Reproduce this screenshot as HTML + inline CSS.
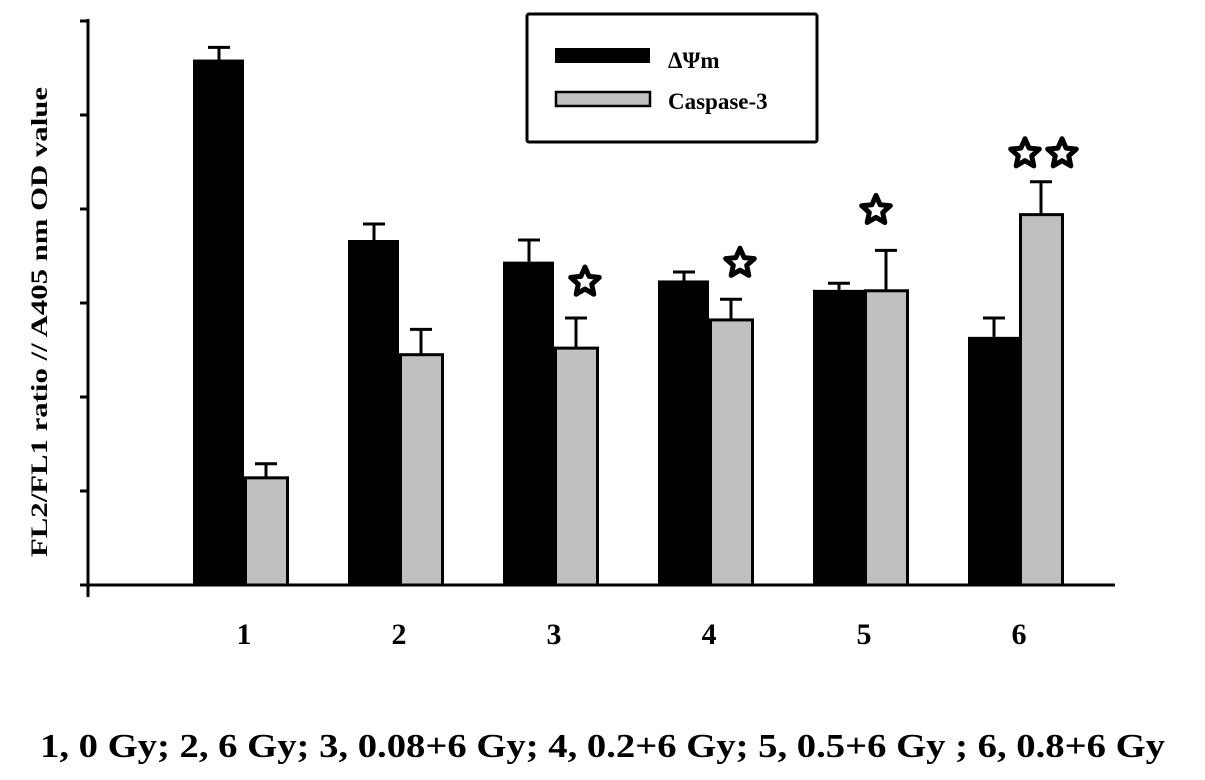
<!DOCTYPE html>
<html><head><meta charset="utf-8"><style>
body{margin:0;background:#fff;}
svg{display:block;font-family:"Liberation Serif",serif;font-weight:bold;}
</style></head><body>
<svg width="1205" height="780" viewBox="0 0 1205 780">
<g id="axes"></g>
<g id="bars"></g>
<g id="legend">
<rect x="527" y="14" width="290" height="128" fill="#fff" stroke="#000" stroke-width="3" rx="2"/>
<rect x="555" y="48" width="95" height="15" fill="#000"/>
<text x="668" y="68" font-size="23">ΔΨm</text>
<rect x="556" y="92" width="94" height="14" fill="#c0c0c0" stroke="#000" stroke-width="2.5"/>
<text x="668" y="109" font-size="23">Caspase-3</text>
</g>
<text transform="translate(47,322) rotate(-90)" text-anchor="middle" font-size="23" textLength="470" lengthAdjust="spacingAndGlyphs">FL2/FL1 ratio // A405 nm OD value</text>
<text x="40" y="757" font-size="34" textLength="1125" lengthAdjust="spacingAndGlyphs">1, 0 Gy; 2, 6 Gy; 3, 0.08+6 Gy; 4, 0.2+6 Gy; 5, 0.5+6 Gy ; 6, 0.8+6 Gy</text>
</svg>
<script>
const categories=["1","2","3","4","5","6"];
const dpsi=[5.59,3.67,3.44,3.24,3.14,2.64];
const dpsiErr=[0.13,0.17,0.23,0.09,0.07,0.20];
const casp=[1.14,2.45,2.52,2.82,3.13,3.94];
const caspErr=[0.15,0.27,0.32,0.22,0.43,0.35];
const stars=[0,0,1,1,1,2];
const yTicks=[0,1,2,3,4,5,6];
const NS="http://www.w3.org/2000/svg";
const base=585, unit=94;
function y(v){return base-v*unit;}
function cx(i){return 244+i*155;}
function mk(tag,attrs,parent){const e=document.createElementNS(NS,tag);for(const k in attrs)e.setAttribute(k,attrs[k]);parent.appendChild(e);return e;}
const axes=document.getElementById('axes'),bars=document.getElementById('bars');
let e=mk('line',{x1:88,y1:y(6)-2,x2:88,y2:base+12,stroke:'#000','stroke-width':3},axes);


e=mk('line',{x1:86,y1:base,x2:1115,y2:base,stroke:'#000','stroke-width':3},axes);


yTicks.forEach(t=>{const l=mk('line',{x1:80,y1:y(t),x2:88,y2:y(t),stroke:'#000','stroke-width':3},axes);

});
function errbar(xc,v,err,name){
const g=mk('path',{d:`M${xc},${y(v)} V${y(v+err)} M${xc-11},${y(v+err)} H${xc+11}`,stroke:'#000','stroke-width':3,fill:'none'},bars);

}
function star(x,yy){const pts=[];for(let k=0;k<10;k++){const r=k%2?7:15,a=-Math.PI/2+k*Math.PI/5;pts.push((x+r*Math.cos(a)).toFixed(1)+','+(yy+r*Math.sin(a)).toFixed(1));}
const s=mk('polygon',{points:pts.join(' '),fill:'#fff',stroke:'#000','stroke-width':5,'stroke-linejoin':'round'},bars);

}
categories.forEach((c,i)=>{
const x=cx(i);
const b=mk('rect',{x:x-51,y:y(dpsi[i]),width:51,height:base-y(dpsi[i]),fill:'#000'},bars);


errbar(x-25,dpsi[i],dpsiErr[i],'error-bar-dpsim-'+c);
const g=mk('rect',{x:x+1.5,y:y(casp[i]),width:42,height:base-y(casp[i]),fill:'#c0c0c0',stroke:'#000','stroke-width':3},bars);


errbar(x+22,casp[i],caspErr[i],'error-bar-caspase-'+c);
const t=mk('text',{x:x,y:644,'text-anchor':'middle','font-size':30},bars);t.textContent=c;


const top=y(casp[i]+caspErr[i]);
if(stars[i]===1)star(x+(casp[i]+caspErr[i]>3.3?12:31),top-(casp[i]+caspErr[i]>3.3?40:36));
if(stars[i]===2){star(x+6,top-28);star(x+43,top-28);}
});
</script>
</body></html>
